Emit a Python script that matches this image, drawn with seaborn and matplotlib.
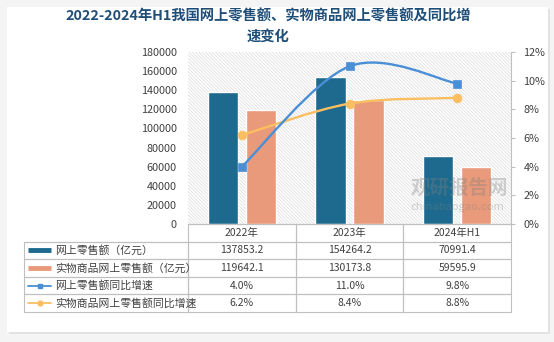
import numpy as np
import pandas as pd
import seaborn as sns
import matplotlib.pyplot as plt
from matplotlib.path import Path
from matplotlib.patches import PathPatch, Rectangle

# chart data

years = ['2022年', '2023年', '2024年H1']
online_sales = [137853.2, 154264.2, 70991.4]
goods_sales = [119642.1, 130173.8, 59595.9]
online_growth = [4.0, 11.0, 9.8]
goods_growth = [6.2, 8.4, 8.8]

bar_names = ['网上零售额（亿元）', '实物商品网上零售额（亿元）']
line_names = ['网上零售额同比增速', '实物商品网上零售额同比增速']

left_ticks = list(range(0, 180001, 20000))
right_ticks = list(range(0, 13, 2))

BLUE = '#1d6a8e'
SALMON = '#e99a7a'
LINE_BLUE = '#4a8fd6'
LINE_ORANGE = '#fbbf62'
TEXT = '#404040'
GRID = '#bfbfbf'


def smooth_path(xs, ys):

    """cubic bezier through the points, like a smoothed office line"""

    pts = np.column_stack([xs, ys]).astype(float)
    verts = [pts[0]]
    codes = [Path.MOVETO]
    n = len(pts)
    for i in range(n - 1):
        p0 = pts[max(i - 1, 0)]
        p1 = pts[i]
        p2 = pts[i + 1]
        p3 = pts[min(i + 2, n - 1)]
        verts += [p1 + (p2 - p0) / 6, p2 - (p3 - p1) / 6, p2]
        codes += [Path.CURVE4] * 3
    return Path(verts, codes)


def px_x(px):
    # pixel column -> axes fraction
    return (px - 188) / 323


sns.set_style('white')
plt.rcParams['font.family'] = ['Noto Sans CJK SC', 'DejaVu Sans']
plt.rcParams['hatch.linewidth'] = 0.5

fig = plt.figure(figsize=(5.54, 3.42), dpi=100)
fig.patch.set_facecolor('#f4f4f4')

# card with a soft shadow

fig.add_artist(Rectangle((9 / 554, 1 - 334 / 342), 541 / 554, 325 / 342,
                         transform=fig.transFigure, facecolor='#e2e2e2',
                         edgecolor='none', zorder=-3))
fig.add_artist(Rectangle((7 / 554, 1 - 332 / 342), 541 / 554, 325 / 342,
                         transform=fig.transFigure, facecolor='white',
                         edgecolor='none', zorder=-2))

ax = fig.add_axes([188 / 554, 1 - 224 / 342, 323 / 554, 172 / 342])
ax.patch.set_alpha(0)

# striped plot area

ax.add_patch(Rectangle((0, 0), 1, 1, transform=ax.transAxes, facecolor='white',
                       edgecolor='#dadada', linewidth=0, hatch='\\' * 10,
                       zorder=0))

df = pd.DataFrame({
    'year': years * 2,
    'value': online_sales + goods_sales,
    'series': [bar_names[0]] * 3 + [bar_names[1]] * 3,
})

sns.barplot(data=df, x='year', y='value', hue='series', palette=[BLUE, SALMON],
            width=0.705, gap=0.2, saturation=1, edgecolor='white', linewidth=1,
            legend=False, ax=ax, zorder=2)

ax.set_xlim(-0.5, 2.5)
ax.set_ylim(0, 180000)
ax.set_yticks(left_ticks)
ax.set_yticklabels([str(t) for t in left_ticks])
ax.tick_params(axis='y', length=0, pad=8, labelsize=7.8, labelcolor=TEXT)
ax.tick_params(axis='x', length=0, labelbottom=False)
ax.set_xlabel('')
ax.set_ylabel('')
for side in ['top', 'left', 'right']:
    ax.spines[side].set_visible(False)
ax.spines['bottom'].set_color(GRID)
ax.spines['bottom'].set_linewidth(0.8)

# growth rates on the right axis

ax2 = ax.twinx()
ax2.set_ylim(0, 12)
ax2.set_yticks(right_ticks)
ax2.set_yticklabels([f'{t}%' for t in right_ticks])
ax2.tick_params(axis='y', length=3, width=0.8, color=GRID, pad=6,
                labelsize=7.8, labelcolor=TEXT)
for side in ['top', 'left', 'bottom']:
    ax2.spines[side].set_visible(False)
ax2.spines['right'].set_color(GRID)
ax2.spines['right'].set_linewidth(0.8)

xs = np.arange(len(years))
ax2.add_patch(PathPatch(smooth_path(xs, goods_growth), facecolor='none',
                        edgecolor=LINE_ORANGE, linewidth=1.7, zorder=3))
ax2.add_patch(PathPatch(smooth_path(xs, online_growth), facecolor='none',
                        edgecolor=LINE_BLUE, linewidth=1.7, zorder=3))

sns.scatterplot(x=years, y=goods_growth, marker='o', s=40, color=LINE_ORANGE,
                edgecolor=LINE_ORANGE, ax=ax2, zorder=4, legend=False)
sns.scatterplot(x=years, y=online_growth, marker='s', s=36, color=LINE_BLUE,
                edgecolor=LINE_BLUE, ax=ax2, zorder=4, legend=False)
ax2.set_xlim(-0.5, 2.5)
ax2.set_ylabel('')

# data table under the chart

rows = [[''] + years]
rows.append([''] + [f'{v:.1f}' for v in online_sales])
rows.append([''] + [f'{v:.1f}' for v in goods_sales])
rows.append([''] + [f'{v:.1f}%' for v in online_growth])
rows.append([''] + [f'{v:.1f}%' for v in goods_growth])

col_widths = [164, 107.7, 107.7, 107.7]
table = ax.table(cellText=rows, colWidths=[w / sum(col_widths) for w in col_widths],
                 cellLoc='center', bbox=[px_x(24), -88 / 172, 487 / 323, 88 / 172])
table.auto_set_font_size(False)
table.set_fontsize(7.5)
for (r, c), cell in table.get_celld().items():
    cell.set_edgecolor(GRID)
    cell.set_linewidth(0.8)
    cell.set_facecolor('none')
    cell.get_text().set_color(TEXT)
    if r == 0 and c == 0:
        cell.visible_edges = 'B'

# legend keys and row names

row_h = 88 / 172 / 5
labels = bar_names + line_names
for i, name in enumerate(labels):
    y = -(i + 1.5) * row_h
    if i < 2:
        ax.plot([px_x(28), px_x(51)], [y, y], transform=ax.transAxes,
                color=[BLUE, SALMON][i], linewidth=3.5, solid_capstyle='butt',
                clip_on=False)
    else:
        color = [LINE_BLUE, LINE_ORANGE][i - 2]
        ax.plot([px_x(28), px_x(51)], [y, y], transform=ax.transAxes,
                color=color, linewidth=1.3, clip_on=False)
        ax.plot([px_x(39.5)], [y], transform=ax.transAxes, color=color,
                marker=['s', 'o'][i - 2], markersize=3.5, clip_on=False)
    ax.text(px_x(55), y, name, transform=ax.transAxes, ha='left', va='center',
            fontsize=7.8, color=TEXT)

# title

fig.text(268 / 554, 1 - 9 / 342,
         '2022-2024年H1我国网上零售额、实物商品网上零售额及同比增\n速变化',
         ha='center', va='top', fontsize=10.3, fontweight='bold',
         color='#1f4e79', linespacing=1.55)

# watermark

fig.text(459 / 554, 1 - 188 / 342, '观研报告网', ha='center', va='center',
         fontsize=14, fontweight='bold', color='#808080', alpha=0.35)
fig.text(457 / 554, 1 - 207 / 342, 'chinabaogao.com', ha='center', va='center',
         fontsize=8, color='#808080', alpha=0.35)

fig.savefig('out.png', dpi=100, facecolor=fig.get_facecolor())
